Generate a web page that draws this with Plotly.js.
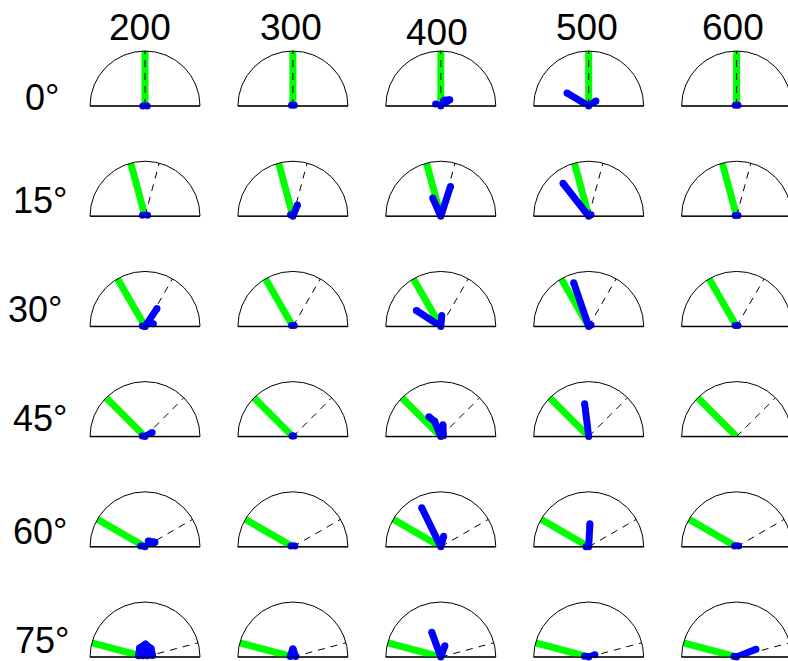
<!DOCTYPE html>
<html><head><meta charset="utf-8">
<script src="https://cdn.plot.ly/plotly-3.0.1.min.js"></script>
<style>html,body{margin:0;padding:0;overflow:hidden;background:#fff}#chart{width:800px;height:661px}</style>
</head><body><div id="chart"></div>
<script>
// Column headings (energy) and row headings (incidence angle, degrees)
const ENERGIES = ['200', '300', '400', '500', '600'];
const INCIDENCE = [0, 15, 30, 45, 60, 75];
const ROW_LABELS = ['0°', '15°', '30°', '45°', '60°', '75°'];

// Blue response paths per cell [row][col]: radii (0..1) and polar angles (deg, 90 = up)
const BLUE_R = [
  [[0.04, 0.04], [0.03, 0.03], [0.1, 0, 0.2, 0.12], [0.46, 0, 0.16], [0.03, 0.03]],
  [[0.05, 0.05], [0.05, 0, 0.22], [0.36, 0, 0.57], [0.76, 0, 0.05], [0.03, 0.03]],
  [[0.05, 0, 0.16, 0, 0.39], [0.03, 0.03], [0.53, 0, 0.2], [0.84, 0, 0.05], [0.03, 0.03]],
  [[0.05, 0, 0.15], [0.02, 0.02], [0.42, 0.3, 0, 0.22, 0.05], [0.6, 0], []],
  [[0.08, 0, 0.2, 0.12], [0.04, 0.04], [0.79, 0, 0.2], [0.05, 0, 0.42], [0.04, 0.04]],
  [[0.12, 0.19, 0.23, 0.19, 0.14, 0.05, 0.1, 0.05], [0.05, 0.15, 0.05], [0.48, 0, 0.22], [0.08, 0, 0.12], [0.05, 0, 0.38]]
];
const BLUE_THETA = [
  [[180, 0], [150, 30], [160, 90, 35, 60], [149, 90, 35], [150, 30]],
  [[160, 20], [150, 90, 68], [114, 90, 72], [128, 90, 30], [150, 30]],
  [[170, 90, 18, 90, 56], [150, 30], [147, 90, 85], [109, 90, 30], [150, 30]],
  [[170, 90, 30], [150, 30], [121, 112, 90, 80, 20], [97, 90], []],
  [[170, 90, 25, 60], [160, 20], [116, 90, 75], [180, 90, 87], [160, 20]],
  [[170, 120, 88, 55, 12, 30, 90, 150], [170, 90, 10], [110, 90, 70], [170, 90, 20], [170, 90, 22]]
];

const W = 800, H = 661, R = 55;
const colX = c => 145 + 147.9 * c;
const rowBase = r => 106 + 110.2 * r;
const TITLE_X = [140, 291, 437, 587, 733];
const TITLE_Y = [28, 28, 32, 28, 28];
const LABEL_X = [42, 40, 35, 40, 40, 42];
const LABEL_Y = [97, 200, 309, 418, 531, 640];

const data = [];
const layout = {
  width: W, height: H,
  margin: {l: 0, r: 0, t: 0, b: 0},
  paper_bgcolor: '#fff',
  showlegend: false,
  annotations: []
};

let k = 0;
INCIDENCE.forEach((a, i) => {
  ENERGIES.forEach((e, j) => {
    k++;
    const id = k === 1 ? 'polar' : 'polar' + k;
    const cx = colX(j), by = rowBase(i);
    layout[id] = {
      domain: {x: [(cx - R) / W, (cx + R) / W], y: [1 - by / H, 1 - (by - R) / H]},
      sector: [0, 180],
      bgcolor: '#fff',
      radialaxis: {visible: false, range: [0, 1]},
      angularaxis: {
        rotation: 0, direction: 'counterclockwise',
        showline: true, linecolor: '#000', linewidth: 1,
        tickvals: [0, 180], showticklabels: false, ticks: '',
        showgrid: true, gridcolor: '#333', gridwidth: 1.5
      }
    };
    data.push({type: 'scatterpolar', subplot: id, mode: 'lines', r: [0, 1], theta: [90 + a, 90 + a],
      line: {color: '#00ff00', width: 7}, hoverinfo: 'skip'});
    data.push({type: 'scatterpolar', subplot: id, mode: 'lines', r: [0, 1], theta: [90 - a, 90 - a],
      line: {color: '#000', width: 1, dash: '7px,6px'}, hoverinfo: 'skip'});
    data.push({type: 'scatterpolar', subplot: id, mode: 'lines+markers', r: BLUE_R[i][j], theta: BLUE_THETA[i][j],
      line: {color: '#0000ff', width: 7}, marker: {color: '#0000ff', size: 7}, hoverinfo: 'skip'});
  });
});

ENERGIES.forEach((e, j) => {
  layout.annotations.push({text: e, x: TITLE_X[j] / W, y: 1 - TITLE_Y[j] / H, xref: 'paper', yref: 'paper',
    xanchor: 'center', yanchor: 'middle', showarrow: false,
    font: {family: 'Liberation Sans, Arial, sans-serif', size: 37, color: '#000'}});
});
ROW_LABELS.forEach((t, i) => {
  layout.annotations.push({text: t, x: LABEL_X[i] / W, y: 1 - LABEL_Y[i] / H, xref: 'paper', yref: 'paper',
    xanchor: 'center', yanchor: 'middle', showarrow: false,
    font: {family: 'Liberation Sans, Arial, sans-serif', size: 36, color: '#000'}});
});

Plotly.newPlot('chart', data, layout, {staticPlot: true});
</script>
</body></html>
